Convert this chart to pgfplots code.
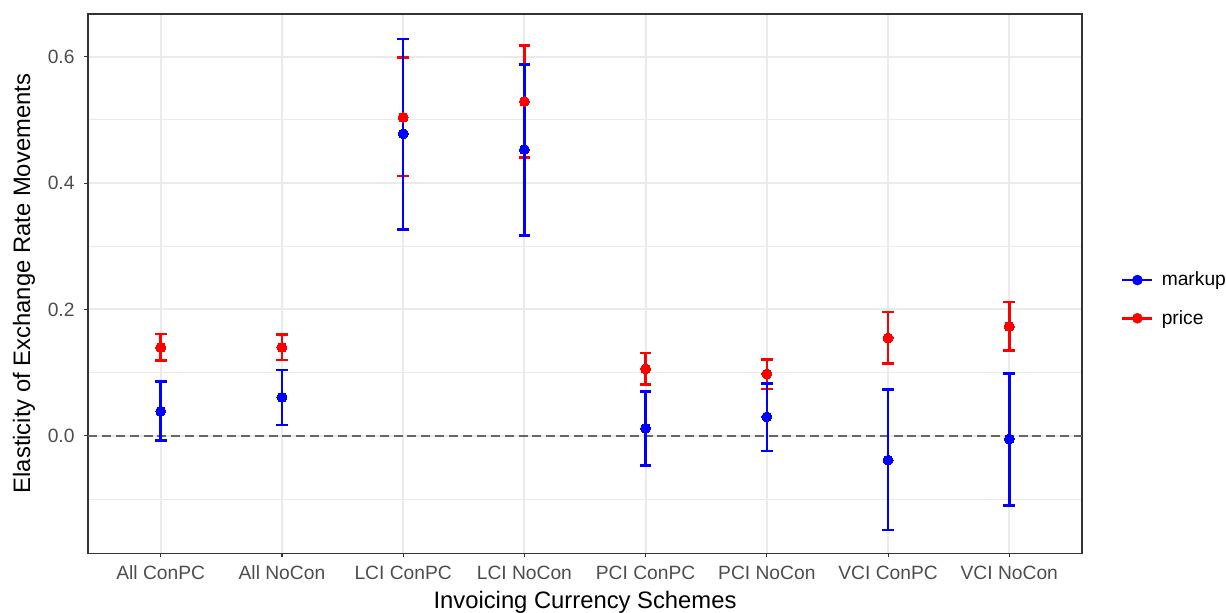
\documentclass[border=0pt]{standalone}
\usepackage{fontspec}
\setmainfont{Liberation Sans}
\usepackage{pgfplots}
\pgfplotsset{compat=1.18}
\usepackage{pgfplotstable}
\definecolor{grid92}{HTML}{EBEBEB}
\definecolor{grey30}{HTML}{4D4D4D}
\definecolor{grey20}{HTML}{333333}
\definecolor{grey40}{HTML}{666666}

% x = category index, y = estimate, lo/hi = interval bounds
\pgfplotstableread{
x y lo hi
0 0.039 -0.007 0.086
1 0.061 0.017 0.104
2 0.478 0.327 0.628
3 0.453 0.317 0.588
4 0.012 -0.047 0.070
5 0.030 -0.024 0.083
6 -0.0385 -0.149 0.073
7 -0.005 -0.110 0.099
}\markup

\pgfplotstableread{
x y lo hi
0 0.140 0.119 0.161
1 0.140 0.120 0.160
2 0.504 0.411 0.599
3 0.529 0.440 0.618
4 0.106 0.081 0.131
5 0.098 0.074 0.121
6 0.155 0.114 0.196
7 0.173 0.135 0.212
}\price

\pgfplotsset{
  myvbar/.style={#1, line width=1.9bp, forget plot, mark=none,
    quiver={u=0, v=\thisrow{hi}-\thisrow{lo}}},
  mycap/.style={#1, line width=1.9bp, forget plot, mark=none,
    quiver={u=0.096, v=0}},
}

\begin{document}
\begin{tikzpicture}
\useasboundingbox (-63.36bp,-42.48bp) rectangle (819.36bp,398.2bp);
\begin{axis}[
  at={(0,0)}, anchor=south west,
  scale only axis, width=715.7bp, height=388.1bp,
  xmin=-0.6, xmax=7.6, ymin=-0.1855, ymax=0.6675,
  xtick={0,1,2,3,4,5,6,7},
  xticklabels={All ConPC, All NoCon, LCI ConPC, LCI NoCon, PCI ConPC, PCI NoCon, VCI ConPC, VCI NoCon},
  ytick={0,0.2,0.4,0.6},
  yticklabels={0.0,0.2,0.4,0.6},
  minor ytick={-0.1,0.1,0.3,0.5},
  minor tick length=0pt,
  major tick length=3bp,
  tick align=outside,
  xtick pos=bottom, ytick pos=left,
  tick style={grey20, line width=0.8bp},
  grid=both,
  major grid style={grid92, line width=1.5bp},
  minor grid style={grid92, line width=0.75bp},
  axis line style={grey20, line width=0.8bp},
  ticklabel style={font=\fontsize{13.9}{15}\selectfont, color=grey30},
  xticklabel style={inner sep=0pt, anchor=north, yshift=-6bp},
  yticklabel style={inner sep=0pt, anchor=east, xshift=-6.5bp},
  /pgf/number format/assume math mode=true,
  label style={font=\fontsize{17.2}{19}\selectfont},
  xlabel={Invoicing Currency Schemes},
  ylabel={Elasticity of Exchange Rate Movements},
  xlabel style={at={(axis description cs:0.5,-0.0915)}, anchor=center},
  ylabel style={at={(axis description cs:-0.0645,0.5)}, anchor=center},
  legend style={at={(axis description cs:1.039,0.471)}, anchor=west, draw=none, fill=none,
    font=\fontsize{13.9}{15}\selectfont, row sep=16bp, column sep=5.8bp, inner sep=0pt,
    nodes={inner sep=0pt}, cells={anchor=west}},
  legend image code/.code={\draw[#1, line width=1.9bp] (0bp,0bp) -- (21.6bp,0bp);
     \fill[#1] (10.8bp,0bp) circle (3.6bp);},
]
\addplot[grey40, dash pattern=on 6.5bp off 3.5bp, line width=1.2bp, forget plot] coordinates {(-0.6,0) (7.6,0)};

% price intervals
\addplot[myvbar=red] table[x=x, y=lo] {\price};
\addplot[mycap=red] table[x expr=\thisrow{x}-0.048, y=hi] {\price};
\addplot[mycap=red] table[x expr=\thisrow{x}-0.048, y=lo] {\price};
% markup intervals
\addplot[myvbar=blue] table[x=x, y=lo] {\markup};
\addplot[mycap=blue] table[x expr=\thisrow{x}-0.048, y=hi] {\markup};
\addplot[mycap=blue] table[x expr=\thisrow{x}-0.048, y=lo] {\markup};

\addplot[red, only marks, mark=*, mark size=3.6bp, mark options={draw=red, fill=red, line width=0pt}, forget plot]
  table[x=x, y=y] {\price};
\addplot[blue, only marks, mark=*, mark size=3.6bp, mark options={draw=blue, fill=blue, line width=0pt}, forget plot]
  table[x=x, y=y] {\markup};

\addlegendimage{blue}
\addlegendentry{markup}
\addlegendimage{red}
\addlegendentry{price}
\end{axis}
\end{tikzpicture}
\end{document}
